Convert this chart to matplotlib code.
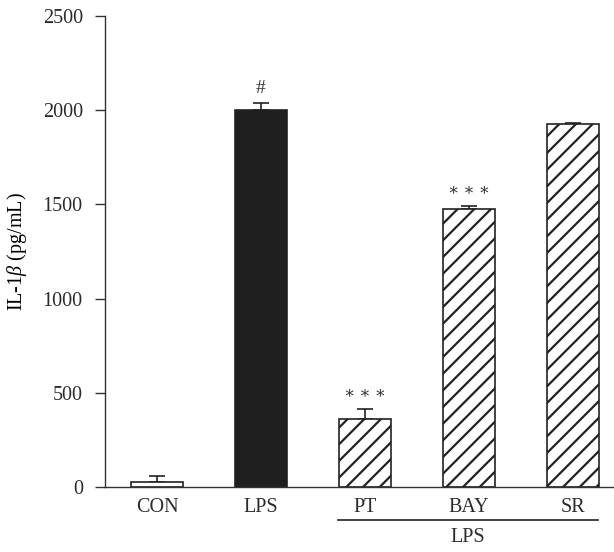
import matplotlib
matplotlib.use("Agg")
import matplotlib.pyplot as plt
import numpy as np

# IL-1beta concentrations per group
groups = ["CON", "LPS", "PT", "BAY", "SR"]
means = [28, 2000, 361, 1474, 1925]
errors = [30, 36, 53, 20, 5]
marks = ["", "#", "∗ ∗ ∗", "∗ ∗ ∗", ""]
y_ticks = [0, 500, 1000, 1500, 2000, 2500]

plt.rcParams["font.family"] = ["Liberation Serif", "DejaVu Serif"]
plt.rcParams["mathtext.fontset"] = "custom"
plt.rcParams["mathtext.it"] = "Liberation Serif:italic"
plt.rcParams["mathtext.rm"] = "Liberation Serif"
plt.rcParams["hatch.linewidth"] = 1.6
plt.rcParams["hatch.color"] = "#222222"
plt.rcParams["text.color"] = "#2b2b2b"
plt.rcParams["ytick.labelcolor"] = "#2b2b2b"
plt.rcParams["xtick.labelcolor"] = "#2b2b2b"

fig = plt.figure(figsize=(6.14, 5.52), dpi=100)
ax = fig.add_axes([105 / 614, 1 - 487 / 552, 1 - 105 / 614, (487 - 16) / 552])

x = np.arange(len(groups))
fills = ["white", "#1f1f1f", "white", "white", "white"]
hatches = [None, None, "//", "//", "//"]
for xi, m, e, fc, h in zip(x, means, errors, fills, hatches):
    ax.bar(xi, m, width=0.5, color=fc, edgecolor="#222222", linewidth=1.2,
           hatch=h, zorder=2)
    ax.errorbar(xi, m, yerr=[[0], [e]], fmt="none", ecolor="#222222",
                elinewidth=1.2, capsize=6, capthick=1.2, zorder=1)

for xi, m, e, t in zip(x, means, errors, marks):
    if t:
        ax.text(xi, m + e + 35, t, ha="center", va="bottom",
                fontsize=14 if t == "#" else 12, color="#333333")

ax.set_xlim(-0.5, 4.394)
ax.set_ylim(0, 2500)
ax.set_yticks(y_ticks)
ax.set_xticks(x)
ax.set_xticklabels(groups)
ax.tick_params(axis="x", length=0, pad=8, labelsize=14.5)
ax.tick_params(axis="y", direction="out", length=7, width=1.0, pad=9,
               labelsize=14.5, color="#333333")
for s in ["top", "right"]:
    ax.spines[s].set_visible(False)
for s in ["left", "bottom"]:
    ax.spines[s].set_color("#333333")
    ax.spines[s].set_linewidth(1.0)

ax.set_ylabel(r"IL-1$\beta$ (pg/mL)", fontsize=14.5, labelpad=10)

# Bracket line grouping the LPS-treated bars
ax.plot([1.74, 4.24], [-175, -175], color="#222222", lw=1.2, clip_on=False)
ax.text(2.99, -215, "LPS", ha="center", va="top", fontsize=14.5)

fig.savefig("out.png", dpi=100)
